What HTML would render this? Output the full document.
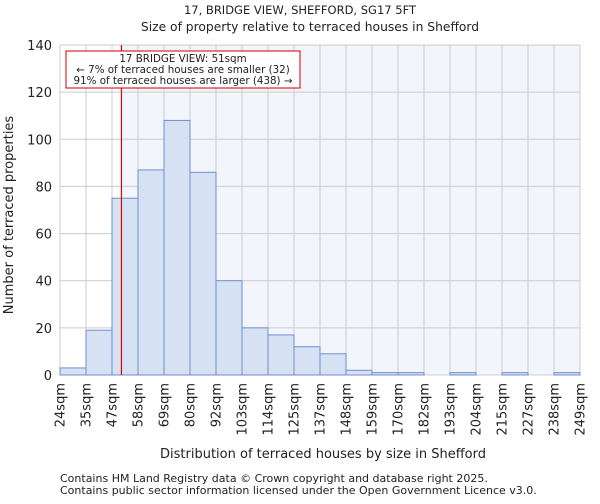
<!DOCTYPE html>
<html><head><meta charset="utf-8"><style>
body{margin:0;background:#fff;font-family:"DejaVu Sans","Liberation Sans",sans-serif;}
svg text{font-family:"DejaVu Sans","Liberation Sans",sans-serif;fill:#222;}
</style></head><body>
<svg id="c" width="600" height="500">
<text x="300" y="14" font-size="11.5" text-anchor="middle">17, BRIDGE VIEW, SHEFFORD, SG17 5FT</text>
<text x="310" y="31" font-size="12.3" text-anchor="middle">Size of property relative to terraced houses in Shefford</text>
<g id="plot"></g>
<text x="323" y="458" font-size="13" text-anchor="middle">Distribution of terraced houses by size in Shefford</text>
<text transform="translate(13,215) rotate(-90)" font-size="13" text-anchor="middle">Number of terraced properties</text>
<text x="60" y="482" font-size="11">Contains HM Land Registry data © Crown copyright and database right 2025.</text>
<text x="60" y="494" font-size="11">Contains public sector information licensed under the Open Government Licence v3.0.</text>
</svg>
<script>
const edges=[24,35,47,58,69,80,92,103,114,125,137,148,159,170,182,193,204,215,227,238,249];
const counts=[3,19,75,87,108,86,40,20,17,12,9,2,1,1,0,1,0,1,0,1];
const yTicks=[0,20,40,60,80,100,120,140];
const marker=51;
const L=60,R=580,T=45,B=375,yMax=140;
const NS="http://www.w3.org/2000/svg";
const g=document.getElementById('plot');
function el(t,a,p){const e=document.createElementNS(NS,t);for(const k in a)e.setAttribute(k,a[k]);(p||g).appendChild(e);return e;}
const bw=(R-L)/(edges.length-1);
const xi=i=>L+i*bw;
function xv(v){for(let i=0;i<edges.length-1;i++){if(v<=edges[i+1])return xi(i)+(v-edges[i])/(edges[i+1]-edges[i])*bw;}return R;}
const y=v=>B-v/yMax*(B-T);
const mx=xv(marker);
let bg=el('rect',{x:L,y:T,width:R-L,height:B-T,fill:'#fff'});


let bg2=el('rect',{x:mx,y:T,width:R-mx,height:B-T,fill:'#f2f5fc'});


edges.forEach((e,i)=>{let l=el('line',{x1:xi(i),x2:xi(i),y1:T,y2:B,stroke:'#ccc'});


let t=el('text',{transform:`translate(${xi(i)+4.5},${B+8}) rotate(-90)`,'font-size':13,'text-anchor':'end'});t.textContent=e+'sqm';

});
yTicks.forEach(v=>{let l=el('line',{x1:L,x2:R,y1:y(v),y2:y(v),stroke:'#ccc'});


let t=el('text',{x:L-8,y:y(v)+5,'font-size':13,'text-anchor':'end'});t.textContent=v;

});
counts.forEach((c,i)=>{if(c<=0)return;let r=el('rect',{x:xi(i),y:y(c),width:bw,height:B-y(c),fill:'#d6e1f3',stroke:'#6f8fcf','stroke-width':1});

});
let ml=el('line',{x1:mx,x2:mx,y1:T,y2:B,stroke:'#e00000','stroke-width':1.2});


let box=el('rect',{x:66,y:51,width:234,height:37,fill:'#fff',stroke:'#cc0000'});


["17 BRIDGE VIEW: 51sqm","← 7% of terraced houses are smaller (32)","91% of terraced houses are larger (438) →"].forEach((s,i)=>{let t=el('text',{x:183,y:62+i*11,'font-size':10.3,'text-anchor':'middle'});t.textContent=s;

});
</script>
</body></html>
